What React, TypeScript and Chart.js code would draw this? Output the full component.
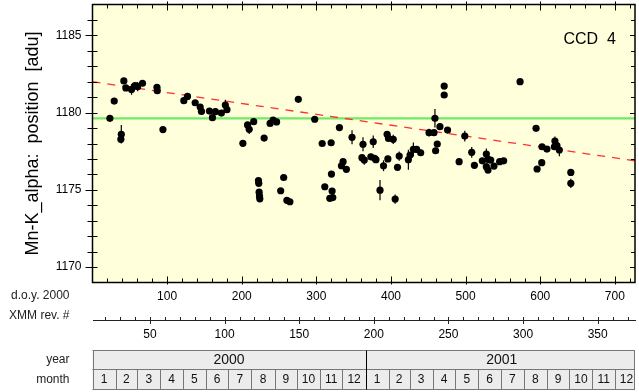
import { useEffect, useRef } from 'react';
import { Chart, registerables } from 'chart.js';

Chart.register(...registerables);

// ---- data ----
const obsDoy = [
  23.3, 29.1, 38.0, 38.6, 42.0, 44.7, 52.3, 57.0, 60.5, 67.0,
  86.4, 86.8, 94.4, 122.4, 127.3, 137.6, 144.3, 146.0, 156.7, 160.7,
  164.7, 172.7, 178.0, 180.2, 201.5, 207.8, 210.0, 216.0, 222.4, 222.8,
  223.3, 223.8, 224.2, 230.0, 238.0, 242.0, 246.7, 252.2, 256.2, 260.5,
  264.5, 275.8, 297.8, 307.8, 311.3, 318.0, 319.8, 320.2, 321.1, 322.0,
  330.9, 333.6, 335.8, 340.2, 347.8, 361.1, 362.5, 364.2, 373.0, 376.2,
  378.0, 379.8, 385.3, 390.0, 394.8, 395.8, 396.7, 403.0, 405.6, 408.7,
  411.0, 423.3, 425.6, 430.0, 434.4, 439.8, 451.0, 457.6, 458.9, 459.8,
  462.0, 465.6, 471.3, 471.3, 475.8, 491.3, 498.9, 508.2, 511.8, 522.4,
  527.8, 527.8, 530.0, 530.0, 533.6, 538.0, 545.6, 551.0, 573.0, 594.4,
  595.8, 602.0, 602.4, 609.0, 619.0, 619.7, 622.4, 625.6, 641.0, 641.0,
];
const obsPos = [
  1179.63, 1180.75, 1178.27, 1178.6, 1182.05, 1181.6, 1181.5, 1181.75, 1181.68, 1181.9,
  1181.64, 1181.42, 1178.9, 1180.77, 1181.05, 1180.64, 1180.36, 1180.08, 1180.1, 1179.67,
  1180.06, 1179.97, 1180.49, 1180.19, 1178.01, 1179.2, 1178.92, 1179.41, 1175.6, 1175.42,
  1174.85, 1174.6, 1174.42, 1178.35, 1179.3, 1179.52, 1179.4, 1174.94, 1175.8, 1174.32,
  1174.23, 1180.86, 1179.57, 1178.0, 1175.2, 1174.45, 1178.05, 1176.02, 1174.92, 1174.5,
  1179.03, 1176.56, 1176.82, 1176.33, 1178.4, 1177.08, 1177.95, 1176.93, 1177.14, 1178.11,
  1177.04, 1176.95, 1174.98, 1176.56, 1178.6, 1177.0, 1178.33, 1178.27, 1174.4, 1176.46,
  1177.19, 1176.95, 1177.25, 1177.62, 1177.62, 1177.4, 1178.7, 1178.7, 1179.63, 1177.53,
  1177.96, 1179.09, 1181.72, 1181.14, 1178.87, 1176.82, 1178.48, 1177.43, 1176.59, 1176.88,
  1177.32, 1176.5, 1176.97, 1176.28, 1176.93, 1176.54, 1176.82, 1176.88, 1182.0, 1178.98,
  1176.35, 1176.76, 1177.79, 1177.64, 1177.79, 1178.16, 1177.86, 1177.58, 1176.13, 1175.42,
];
const obsErr = [
  0.1, 0.1, 0.15, 0.6, 0.1, 0.15, 0.35, 0.15, 0.3, 0.1,
  0.1, 0.1, 0.1, 0.1, 0.1, 0.1, 0.1, 0.1, 0.1, 0.1,
  0.1, 0.1, 0.35, 0.1, 0.1, 0.1, 0.3, 0.1, 0.1, 0.1,
  0.1, 0.1, 0.1, 0.1, 0.1, 0.1, 0.1, 0.1, 0.1, 0.1,
  0.1, 0.1, 0.1, 0.1, 0.1, 0.1, 0.1, 0.1, 0.1, 0.1,
  0.1, 0.15, 0.15, 0.15, 0.45, 0.2, 0.45, 0.3, 0.2, 0.4,
  0.2, 0.2, 0.65, 0.35, 0.15, 0.2, 0.15, 0.3, 0.3, 0.15,
  0.3, 0.65, 0.2, 0.45, 0.2, 0.2, 0.25, 0.15, 0.6, 0.2,
  0.2, 0.2, 0.15, 0.15, 0.2, 0.15, 0.35, 0.35, 0.15, 0.15,
  0.35, 0.15, 0.2, 0.15, 0.15, 0.15, 0.15, 0.15, 0.1, 0.15,
  0.15, 0.15, 0.15, 0.15, 0.15, 0.3, 0.15, 0.4, 0.15, 0.3,
];
const meanLineDoy = [0, 727];
const meanLinePos = [1179.63, 1179.63];
const trendLineDoy = [0, 727];
const trendLinePos = [1182.0, 1176.88];

const doyTickLabels = [100, 200, 300, 400, 500, 600, 700];
const yTickLabels = [1170, 1175, 1180, 1185];
const revTickLabels = [50, 100, 150, 200, 250, 300, 350];
const REV_ZERO_DOY = -23;
const REV_DAYS = 2;
const yearLabels = ['2000', '2001'];
const monthDays2000 = [31, 29, 31, 30, 31, 30, 31, 31, 30, 31, 30, 31];
const monthDays2001 = [31, 28, 31, 30, 31, 30, 31, 31, 30, 31, 30, 31];
const monthLabels = ['1', '2', '3', '4', '5', '6', '7', '8', '9', '10', '11', '12'];

const X_MIN = 0;
const X_MAX = 727;
const Y_MIN = 1169;
const Y_MAX = 1187;

const FONT = "'Liberation Sans', Arial, Helvetica, sans-serif";

const overlay = {
  id: 'overlay',
  beforeDraw(chart: any) {
    const { ctx, chartArea: a } = chart;
    ctx.save();
    ctx.fillStyle = '#ffffdc';
    ctx.fillRect(a.left, a.top, a.right - a.left, a.bottom - a.top);
    ctx.restore();
  },
  beforeDatasetsDraw(chart: any) {
    const { ctx, scales } = chart;
    const x = scales.x, y = scales.y;
    ctx.save();
    ctx.setLineDash([]);
    ctx.strokeStyle = '#000';
    ctx.lineWidth = 1.2;
    for (let i = 0; i < obsDoy.length; i++) {
      const px = x.getPixelForValue(obsDoy[i]);
      ctx.beginPath();
      ctx.moveTo(px, y.getPixelForValue(obsPos[i] - obsErr[i]));
      ctx.lineTo(px, y.getPixelForValue(obsPos[i] + obsErr[i]));
      ctx.stroke();
    }
    ctx.restore();
  },
  afterDraw(chart: any) {
    const { ctx, chartArea: a, scales } = chart;
    const x = scales.x, y = scales.y;
    const R = (v: number) => Math.round(v);
    ctx.save();
    ctx.setLineDash([]);
    ctx.globalAlpha = 1;
    ctx.fillStyle = '#000';
    const vTick = (px: number, y0: number, y1: number) => {
      ctx.fillRect(R(px), Math.min(y0, y1), 1, Math.abs(y1 - y0));
    };
    const hTick = (py: number, x0: number, x1: number) => {
      ctx.fillRect(Math.min(x0, x1), R(py), Math.abs(x1 - x0), 1);
    };
    // doy ticks top & bottom
    for (let d = 20; d < X_MAX; d += 20) {
      const px = x.getPixelForValue(d);
      const major = d % 100 === 0;
      vTick(px, a.bottom + (major ? 2 : 0), a.bottom - (major ? 6 : 4));
      vTick(px, a.top - (major ? 3 : 0), a.top + (major ? 6 : 4));
    }
    // y ticks left & right
    for (let v = Y_MIN + 1; v < Y_MAX; v += 1) {
      const py = y.getPixelForValue(v);
      const major = v % 5 === 0;
      hTick(py, a.left - (major ? 7 : 5), a.left + 5);
      hTick(py, a.right - (major ? 5 : 4), a.right);
    }
    // frame
    ctx.strokeStyle = '#000';
    ctx.lineWidth = 1.5;
    ctx.strokeRect(a.left, a.top, a.right - a.left, a.bottom - a.top);

    // rev axis
    const revY = 320;
    ctx.fillStyle = '#222';
    ctx.fillRect(R(a.left), revY, R(a.right) - R(a.left) + 1, 1);
    for (let r = 10; REV_ZERO_DOY + REV_DAYS * r <= X_MAX; r += 10) {
      const d = REV_ZERO_DOY + REV_DAYS * r;
      if (d < X_MIN) continue;
      const px = x.getPixelForValue(d);
      const major = r % 50 === 0;
      vTick(px, revY - 3, revY + (major ? 4 : 0));
    }
    ctx.fillStyle = '#000';
    ctx.font = `12px ${FONT}`;
    ctx.textAlign = 'center';
    ctx.textBaseline = 'middle';
    for (const r of revTickLabels) {
      ctx.fillText(String(r), x.getPixelForValue(REV_ZERO_DOY + REV_DAYS * r), 335);
    }

    // year / month boxes
    const yTop = 350.5, yMid = 369.5, yBot = 389.5;
    const clipR = a.right;
    const X = (d: number) => Math.min(x.getPixelForValue(d), clipR);
    const yearStarts = [0, 366];
    const yearLens = [366, 365];
    const months = [monthDays2000, monthDays2001];
    ctx.fillStyle = '#ececec';
    ctx.fillRect(a.left, yTop, clipR - a.left, yBot - yTop);
    ctx.strokeStyle = '#777';
    ctx.lineWidth = 1;
    ctx.beginPath();
    ctx.moveTo(a.left, yTop); ctx.lineTo(clipR, yTop);
    ctx.moveTo(a.left, yMid); ctx.lineTo(clipR, yMid);
    ctx.moveTo(a.left, yBot); ctx.lineTo(clipR, yBot);
    ctx.moveTo(R(a.left) + 0.5, yTop); ctx.lineTo(R(a.left) + 0.5, yBot);
    ctx.moveTo(R(clipR) - 0.5, yTop); ctx.lineTo(R(clipR) - 0.5, yBot);
    ctx.stroke();
    ctx.fillStyle = '#111';
    for (let yi = 0; yi < 2; yi++) {
      let d = yearStarts[yi];
      ctx.font = `12px ${FONT}`;
      for (let m = 0; m < 12; m++) {
        const d0 = d;
        const d1 = d + months[yi][m];
        d = d1;
        if (d0 >= X_MAX) break;
        if (m > 0) {
          const p0 = R(X(d0)) + 0.5;
          ctx.beginPath();
          ctx.moveTo(p0, yMid);
          ctx.lineTo(p0, yBot);
          ctx.stroke();
        }
        ctx.fillText(monthLabels[m], (x.getPixelForValue(d0) + x.getPixelForValue(d1)) / 2, 380);
      }
      ctx.font = `14px ${FONT}`;
      ctx.fillText(yearLabels[yi], x.getPixelForValue(yearStarts[yi] + yearLens[yi] / 2), 360.5);
    }
    // year separator
    ctx.strokeStyle = '#000';
    ctx.beginPath();
    ctx.moveTo(R(x.getPixelForValue(366)) + 0.5, yTop);
    ctx.lineTo(R(x.getPixelForValue(366)) + 0.5, yBot);
    ctx.stroke();

    // left row labels
    ctx.fillStyle = '#222';
    ctx.textAlign = 'right';
    ctx.font = `12px ${FONT}`;
    ctx.fillText('d.o.y. 2000', 69.5, 296);
    ctx.fillText('XMM rev. #', 69.5, 316);
    ctx.fillText('year', 69.5, 360);
    ctx.fillText('month', 69.5, 380);

    // CCD label
    ctx.fillStyle = '#000';
    ctx.textAlign = 'left';
    ctx.textBaseline = 'alphabetic';
    ctx.font = `16px ${FONT}`;
    ctx.fillText('CCD  4', a.right - 71.5, 43.5);
    ctx.restore();
  },
};

export default function App() {
  const ref = useRef<HTMLCanvasElement | null>(null);
  useEffect(() => {
    if (!ref.current) return;
    Chart.defaults.font.family = FONT;
    const chart = new Chart(ref.current, {
      type: 'scatter',
      data: {
        datasets: [
          {
            label: 'Mn-K alpha',
            data: obsDoy.map((d, i) => ({ x: d, y: obsPos[i] })),
            backgroundColor: '#000',
            borderColor: '#000',
            pointRadius: 3.6,
            borderWidth: 0,
            order: 0,
          },
          {
            type: 'line',
            label: 'mean',
            data: meanLineDoy.map((d, i) => ({ x: d, y: meanLinePos[i] })),
            borderColor: '#70ea66',
            borderWidth: 2.2,
            pointRadius: 0,
            order: 2,
          } as any,
          {
            type: 'line',
            label: 'trend',
            data: trendLineDoy.map((d, i) => ({ x: d, y: trendLinePos[i] })),
            borderColor: '#ff3030',
            borderWidth: 1.3,
            borderDash: [8, 7],
            pointRadius: 0,
            order: 1,
          } as any,
        ],
      },
      options: {
        responsive: false,
        animation: false,
        layout: { padding: { left: 0, top: 4.5, right: 1.5, bottom: 0 } },
        plugins: { legend: { display: false }, tooltip: { enabled: false } },
        scales: {
          x: {
            type: 'linear',
            position: 'bottom',
            min: X_MIN,
            max: X_MAX,
            afterBuildTicks: (s: any) => { s.ticks = doyTickLabels.map((v) => ({ value: v })); },
            afterFit: (s: any) => { s.height = 109.5; s.paddingLeft = 0; s.paddingRight = 0; },
            ticks: {
              color: '#000', font: { size: 12, family: FONT }, padding: 7, maxRotation: 0, autoSkip: false,
              callback: (v: any) => String(v),
            },
            grid: { display: false, drawTicks: false },
            border: { display: false },
          },
          y: {
            type: 'linear',
            min: Y_MIN,
            max: Y_MAX,
            afterBuildTicks: (s: any) => { s.ticks = yTickLabels.map((v) => ({ value: v })); },
            afterFit: (s: any) => { s.width = 92.5; s.paddingTop = 0; s.paddingBottom = 0; },
            ticks: { color: '#000', font: { size: 12, family: FONT }, padding: 11, callback: (v: any) => String(v) },
            grid: { display: false, drawTicks: false },
            border: { display: false },
            title: {
              display: true,
              text: 'Mn-K_alpha:  position  [adu]',
              color: '#000',
              font: { size: 18, family: FONT },
              padding: { top: 22, bottom: 0 },
            },
          },
        },
      } as any,
      plugins: [overlay],
    });
    return () => chart.destroy();
  }, []);
  return (
    <div style={{ position: 'fixed', left: 0, top: 0, width: 639, height: 392, background: '#fff' }}>
      <canvas ref={ref} width={639} height={392} style={{ display: 'block' }} />
    </div>
  );
}
